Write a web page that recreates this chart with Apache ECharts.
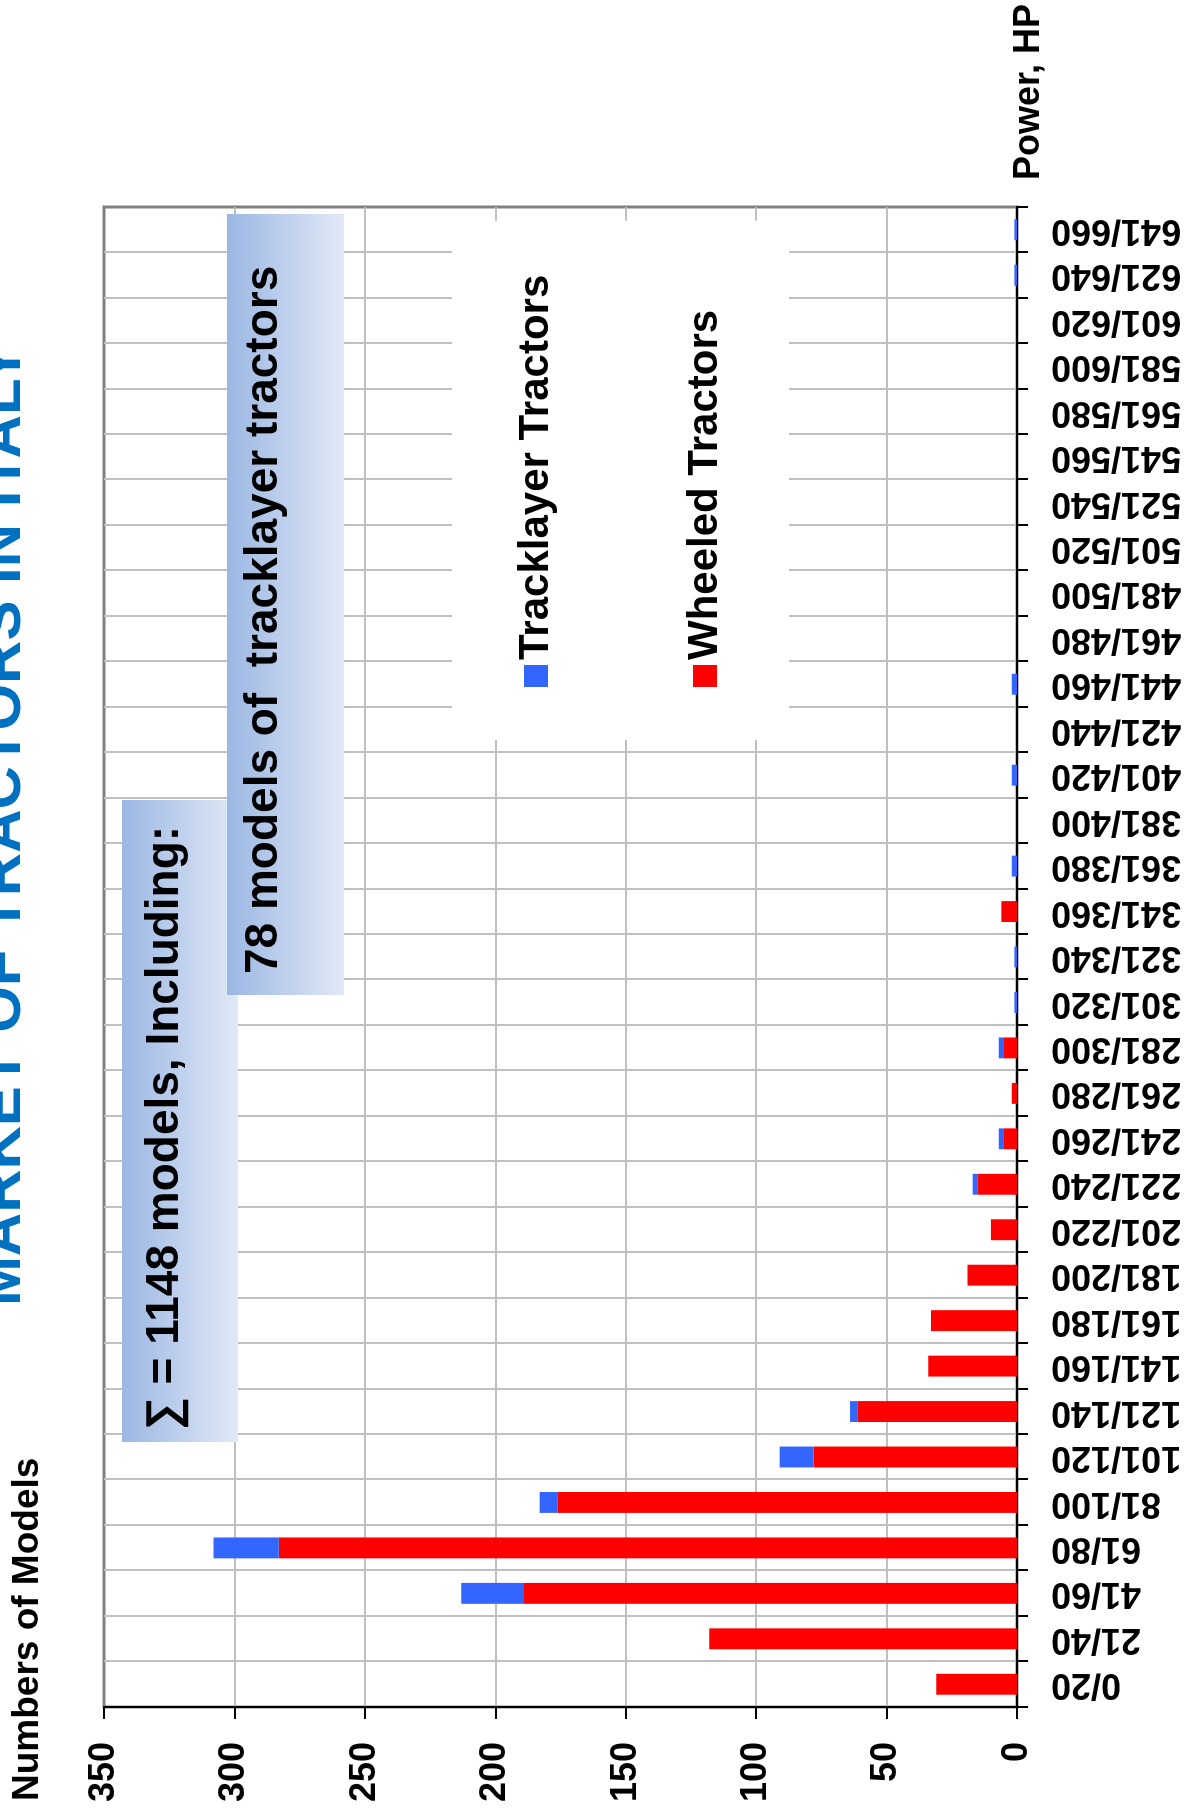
<!DOCTYPE html>
<html>
<head>
<meta charset="utf-8">
<title>Market of tractors in Italy</title>
<script src="https://cdn.jsdelivr.net/npm/echarts@6.0.0/dist/echarts.min.js"></script>
<style>
    html, body {
        margin: 0;
        padding: 0;
        width: 1186px;
        height: 1816px;
        overflow: hidden;
        background: #fff;
    }
    /* the chart is drawn upright (1816 x 1186) and turned a quarter turn */
    #chart1 {
        position: absolute;
        left: 0;
        top: 0;
        width: 1816px;
        height: 1186px;
        transform-origin: 0 0;
        transform: translateY(1816px) rotate(-90deg);
    }
</style>
</head>
<body>
<div id="chart1"></div>
<script>
const powerClasses = ['0/20', '21/40', '41/60', '61/80', '81/100', '101/120', '121/140', '141/160',
    '161/180', '181/200', '201/220', '221/240', '241/260', '261/280', '281/300', '301/320',
    '321/340', '341/360', '361/380', '381/400', '401/420', '421/440', '441/460', '461/480',
    '481/500', '501/520', '521/540', '541/560', '561/580', '581/600', '601/620', '621/640', '641/660'];

const wheeledModels = [31, 118, 189, 283, 176, 78, 61, 34, 33, 19, 10, 15, 5, 2, 5, 0,
    0, 6, 0, 0, 0, 0, 0, 0, 0, 0, 0, 0, 0, 0, 0, 0, 0];

const tracklayerModels = [0, 0, 24, 25, 7, 13, 3, 0, 0, 0, 0, 2, 2, 0, 2, 1,
    1, 0, 2, 0, 2, 0, 2, 0, 0, 0, 0, 0, 0, 0, 0, 1, 1];

const valueTicks = { min: 0, max: 350, step: 50 };

const titleText = 'MARKET OF TRACTORS IN ITALY';
const totalText = '\u2211 = 1148 models, Including:';
const trackText = '78 models of  tracklayer tractors';

const fontFam = "'Liberation Sans', Arial, sans-serif";
let chart1;

function boxFill() {
    return new echarts.graphic.LinearGradient(0, 0, 0, 1, [
        { offset: 0, color: '#9BB7E3' },
        { offset: 1, color: '#E2E9F6' }
    ]);
}

function textStyle(txt, size, color, align) {
    return {
        text: txt,
        fill: color,
        font: 'bold ' + size + 'px ' + fontFam,
        align: align,
        verticalAlign: 'middle'
    };
}

function initCharts() {
    chart1 = echarts.init(document.getElementById('chart1'));

    let option = {
        animation: false,
        backgroundColor: '#fff',
        grid: {
            left: 109,
            right: 207,
            top: 104,
            bottom: 169,
            show: true,
            borderColor: '#808080',
            borderWidth: 3,
            containLabel: false,
            outerBoundsMode: 'none'
        },
        legend: {
            data: ['Tracklayer Tractors', 'Wheeled Tractors'],
            orient: 'vertical',
            left: 1076,
            top: 452,
            padding: [63, 54, 63, 53],
            itemGap: 127,
            itemWidth: 22,
            itemHeight: 24,
            itemTextGap: 10,
            icon: 'rect',
            selectedMode: false,
            backgroundColor: '#fff',
            textStyle: {
                fontSize: 42,
                fontWeight: 'bold',
                fontFamily: fontFam,
                color: '#000'
            }
        },
        xAxis: {
            type: 'category',
            data: powerClasses,
            axisLine: { lineStyle: { color: '#000', width: 2 } },
            axisTick: { show: true, length: 11, lineStyle: { color: '#000', width: 2 } },
            axisLabel: {
                interval: 0,
                rotate: 90,
                margin: 34,
                fontSize: 36,
                fontWeight: 'bold',
                fontFamily: fontFam,
                color: '#000'
            },
            splitLine: {
                show: true,
                showMaxLine: false,
                lineStyle: { color: '#c0c0c0', width: 2 }
            }
        },
        yAxis: {
            type: 'value',
            min: valueTicks.min,
            max: valueTicks.max,
            interval: valueTicks.step,
            axisLine: { show: true, lineStyle: { color: '#000', width: 2 } },
            axisTick: { show: true, length: 12, lineStyle: { color: '#000', width: 2 } },
            axisLabel: {
                margin: 35,
                fontSize: 36,
                fontWeight: 'bold',
                fontFamily: fontFam,
                color: '#000'
            },
            splitLine: {
                show: true,
                showMaxLine: false,
                lineStyle: { color: '#c0c0c0', width: 2 }
            }
        },
        series: [
            {
                name: 'Wheeled Tractors',
                type: 'bar',
                stack: 'models',
                barWidth: '46%',
                itemStyle: { color: '#FF0000' },
                data: wheeledModels
            },
            {
                name: 'Tracklayer Tractors',
                type: 'bar',
                stack: 'models',
                barWidth: '46%',
                itemStyle: { color: '#3366FF' },
                data: tracklayerModels
            }
        ],
        graphic: [
            // title, mostly cut off by the top edge
            { type: 'text', x: 991, y: 3, z: 20, style: textStyle(titleText, 60, '#0070C0', 'center') },
            { type: 'text', x: 15, y: 28, z: 20, style: textStyle('Numbers of Models', 37, '#000', 'left') },
            { type: 'text', x: 1636, y: 1029, z: 20, style: textStyle('Power, HP', 36, '#000', 'left') },
            // text boxes with the gradient fill
            { type: 'rect', z: 20, shape: { x: 374, y: 122, width: 642, height: 116 }, style: { fill: boxFill() } },
            { type: 'text', z: 21, x: 386, y: 165, style: textStyle(totalText, 46, '#000', 'left') },
            { type: 'rect', z: 22, shape: { x: 821, y: 227, width: 781, height: 117 }, style: { fill: boxFill() } },
            { type: 'text', z: 23, x: 842, y: 264, style: textStyle(trackText, 46, '#000', 'left') }
        ]
    };

    chart1.setOption(option);
}

document.addEventListener('DOMContentLoaded', function () {
    initCharts();
});
</script>
</body>
</html>
